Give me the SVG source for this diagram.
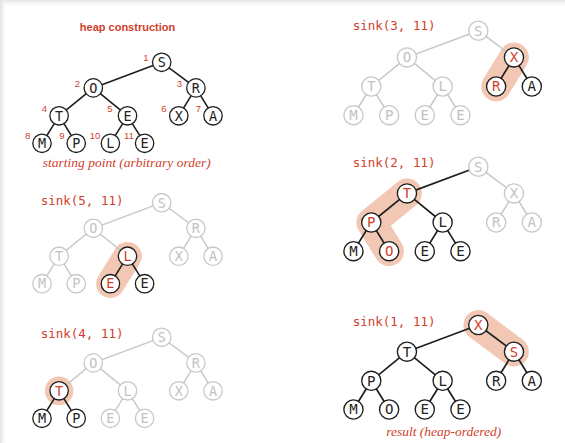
<svg xmlns="http://www.w3.org/2000/svg" width="565" height="443" viewBox="0 0 565 443">
  <defs>
    <linearGradient id="shadeTop" x1="0" y1="0" x2="0" y2="1">
      <stop offset="0" stop-color="#e2e2e2"/>
      <stop offset="1" stop-color="#ffffff" stop-opacity="0"/>
    </linearGradient>
    <linearGradient id="shadeLeft" x1="0" y1="0" x2="1" y2="0">
      <stop offset="0" stop-color="#e2e2e2"/>
      <stop offset="1" stop-color="#ffffff" stop-opacity="0"/>
    </linearGradient>
  </defs>
  <style>
    .e  { stroke: #1e1e1e; stroke-width: 1.6; fill: none; }
    .eg { stroke: #c6c6c6; stroke-width: 1.4; fill: none; }
    .hl { stroke: #f2c8b4; stroke-width: 28.5; stroke-linecap: round; stroke-linejoin: round; fill: none; }
    .nd circle { fill: #ffffff; stroke: #1e1e1e; stroke-width: 1.3; }
    .nd text { font-family: "DejaVu Sans Mono", "Liberation Mono", monospace; font-size: 13.5px; text-anchor: middle; fill: #222222; }
    .nd.g circle { stroke: #c8c8c8; }
    .nd.g text { fill: #c2c2c2; }
    .nd.r text { fill: #cf3f2c; }
    .nd text.idx { font-family: "Liberation Sans", Arial, sans-serif; font-size: 9.5px; fill: #cf3f2c; text-anchor: middle; }
    .cap { font-family: "DejaVu Sans Mono", "Liberation Mono", monospace; font-size: 12.5px; fill: #cf3f2c; }
    .note { font-family: "Liberation Serif", "Times New Roman", serif; font-style: italic; font-size: 13.5px; fill: #cf3f2c; text-anchor: middle; }
    .title { font-family: "Liberation Sans", Arial, sans-serif; font-weight: bold; font-size: 11px; fill: #cf3f2c; text-anchor: middle; }
  </style>

  <!-- page background with soft edge shading -->
  <rect x="0" y="0" width="565" height="443" fill="#ffffff"/>
  <rect x="0" y="0" width="565" height="8" fill="url(#shadeTop)"/>
  <rect x="0" y="0" width="8" height="443" fill="url(#shadeLeft)"/>

  <!-- ===== heap construction: starting point ===== -->
  <text class="title" x="127.5" y="30.5">heap construction</text>
  <g id="start" transform="translate(161.7,62.3)">
    <g id="start-edges">
      <line class="e" x1="0" y1="0" x2="-68.4" y2="25.6"/>
      <line class="e" x1="0" y1="0" x2="34.2" y2="25.6"/>
      <line class="e" x1="-68.4" y1="25.6" x2="-102.6" y2="53.5"/>
      <line class="e" x1="-68.4" y1="25.6" x2="-34.2" y2="53.5"/>
      <line class="e" x1="34.2" y1="25.6" x2="17.1" y2="53.5"/>
      <line class="e" x1="34.2" y1="25.6" x2="51.3" y2="53.5"/>
      <line class="e" x1="-102.6" y1="53.5" x2="-119.7" y2="81"/>
      <line class="e" x1="-102.6" y1="53.5" x2="-85.5" y2="81"/>
      <line class="e" x1="-34.2" y1="53.5" x2="-51.3" y2="81"/>
      <line class="e" x1="-34.2" y1="53.5" x2="-17.1" y2="81"/>
    </g>
    <g id="start-n1" class="nd"><circle cx="0" cy="0" r="9.2"/><text x="0" y="4.8">S</text><text class="idx" x="-15.7" y="-1.4">1</text></g>
    <g id="start-n2" class="nd"><circle cx="-68.4" cy="25.6" r="9.2"/><text x="-68.4" y="30.4">O</text><text class="idx" x="-84.4" y="24.4">2</text></g>
    <g id="start-n3" class="nd"><circle cx="34.2" cy="25.6" r="9.2"/><text x="34.2" y="30.4">R</text><text class="idx" x="17.6" y="24.4">3</text></g>
    <g id="start-n4" class="nd"><circle cx="-102.6" cy="53.5" r="9.2"/><text x="-102.6" y="58.3">T</text><text class="idx" x="-117.4" y="50.1">4</text></g>
    <g id="start-n5" class="nd"><circle cx="-34.2" cy="53.5" r="9.2"/><text x="-34.2" y="58.3">E</text><text class="idx" x="-51.7" y="50.1">5</text></g>
    <g id="start-n6" class="nd"><circle cx="17.1" cy="53.5" r="9.2"/><text x="17.1" y="58.3">X</text><text class="idx" x="2.3" y="50.1">6</text></g>
    <g id="start-n7" class="nd"><circle cx="51.3" cy="53.5" r="9.2"/><text x="51.3" y="58.3">A</text><text class="idx" x="36.6" y="50.1">7</text></g>
    <g id="start-n8" class="nd"><circle cx="-119.7" cy="81" r="9.2"/><text x="-119.7" y="85.8">M</text><text class="idx" x="-134" y="77.1">8</text></g>
    <g id="start-n9" class="nd"><circle cx="-85.5" cy="81" r="9.2"/><text x="-85.5" y="85.8">P</text><text class="idx" x="-99.7" y="77.1">9</text></g>
    <g id="start-n10" class="nd"><circle cx="-51.3" cy="81" r="9.2"/><text x="-51.3" y="85.8">L</text><text class="idx" x="-66.7" y="77.1">10</text></g>
    <g id="start-n11" class="nd"><circle cx="-17.1" cy="81" r="9.2"/><text x="-17.1" y="85.8">E</text><text class="idx" x="-32.7" y="77.1">11</text></g>
  </g>
  <text class="note" x="126.7" y="167">starting point (arbitrary order)</text>

  <!-- ===== sink(5, 11) ===== -->
  <text class="cap" x="40.7" y="204.7">sink(5, 11)</text>
  <g id="sink5" transform="translate(161.7,202.7)">
    <path class="hl" d="M-34.2,53.5 L-51.3,81"/>
    <g id="sink5-edges">
      <line class="eg" x1="0" y1="0" x2="-68.4" y2="25.6"/>
      <line class="eg" x1="0" y1="0" x2="34.2" y2="25.6"/>
      <line class="eg" x1="-68.4" y1="25.6" x2="-102.6" y2="53.5"/>
      <line class="eg" x1="-68.4" y1="25.6" x2="-34.2" y2="53.5"/>
      <line class="eg" x1="34.2" y1="25.6" x2="17.1" y2="53.5"/>
      <line class="eg" x1="34.2" y1="25.6" x2="51.3" y2="53.5"/>
      <line class="eg" x1="-102.6" y1="53.5" x2="-119.7" y2="81"/>
      <line class="eg" x1="-102.6" y1="53.5" x2="-85.5" y2="81"/>
      <line class="e" x1="-34.2" y1="53.5" x2="-51.3" y2="81"/>
      <line class="e" x1="-34.2" y1="53.5" x2="-17.1" y2="81"/>
    </g>
    <g id="sink5-n1" class="nd g"><circle cx="0" cy="0" r="9.2"/><text x="0" y="4.8">S</text></g>
    <g id="sink5-n2" class="nd g"><circle cx="-68.4" cy="25.6" r="9.2"/><text x="-68.4" y="30.4">O</text></g>
    <g id="sink5-n3" class="nd g"><circle cx="34.2" cy="25.6" r="9.2"/><text x="34.2" y="30.4">R</text></g>
    <g id="sink5-n4" class="nd g"><circle cx="-102.6" cy="53.5" r="9.2"/><text x="-102.6" y="58.3">T</text></g>
    <g id="sink5-n5" class="nd r"><circle cx="-34.2" cy="53.5" r="9.2"/><text x="-34.2" y="58.3">L</text></g>
    <g id="sink5-n6" class="nd g"><circle cx="17.1" cy="53.5" r="9.2"/><text x="17.1" y="58.3">X</text></g>
    <g id="sink5-n7" class="nd g"><circle cx="51.3" cy="53.5" r="9.2"/><text x="51.3" y="58.3">A</text></g>
    <g id="sink5-n8" class="nd g"><circle cx="-119.7" cy="81" r="9.2"/><text x="-119.7" y="85.8">M</text></g>
    <g id="sink5-n9" class="nd g"><circle cx="-85.5" cy="81" r="9.2"/><text x="-85.5" y="85.8">P</text></g>
    <g id="sink5-n10" class="nd r"><circle cx="-51.3" cy="81" r="9.2"/><text x="-51.3" y="85.8">E</text></g>
    <g id="sink5-n11" class="nd"><circle cx="-17.1" cy="81" r="9.2"/><text x="-17.1" y="85.8">E</text></g>
  </g>

  <!-- ===== sink(4, 11) ===== -->
  <text class="cap" x="40.7" y="338">sink(4, 11)</text>
  <g id="sink4" transform="translate(161.7,337.3)">
    <circle cx="-102.6" cy="53.5" r="14.3" fill="#f2c8b4"/>
    <g id="sink4-edges">
      <line class="eg" x1="0" y1="0" x2="-68.4" y2="25.6"/>
      <line class="eg" x1="0" y1="0" x2="34.2" y2="25.6"/>
      <line class="eg" x1="-68.4" y1="25.6" x2="-102.6" y2="53.5"/>
      <line class="eg" x1="-68.4" y1="25.6" x2="-34.2" y2="53.5"/>
      <line class="eg" x1="34.2" y1="25.6" x2="17.1" y2="53.5"/>
      <line class="eg" x1="34.2" y1="25.6" x2="51.3" y2="53.5"/>
      <line class="e" x1="-102.6" y1="53.5" x2="-119.7" y2="81"/>
      <line class="e" x1="-102.6" y1="53.5" x2="-85.5" y2="81"/>
      <line class="eg" x1="-34.2" y1="53.5" x2="-51.3" y2="81"/>
      <line class="eg" x1="-34.2" y1="53.5" x2="-17.1" y2="81"/>
    </g>
    <g id="sink4-n1" class="nd g"><circle cx="0" cy="0" r="9.2"/><text x="0" y="4.8">S</text></g>
    <g id="sink4-n2" class="nd g"><circle cx="-68.4" cy="25.6" r="9.2"/><text x="-68.4" y="30.4">O</text></g>
    <g id="sink4-n3" class="nd g"><circle cx="34.2" cy="25.6" r="9.2"/><text x="34.2" y="30.4">R</text></g>
    <g id="sink4-n4" class="nd r"><circle cx="-102.6" cy="53.5" r="9.2"/><text x="-102.6" y="58.3">T</text></g>
    <g id="sink4-n5" class="nd g"><circle cx="-34.2" cy="53.5" r="9.2"/><text x="-34.2" y="58.3">L</text></g>
    <g id="sink4-n6" class="nd g"><circle cx="17.1" cy="53.5" r="9.2"/><text x="17.1" y="58.3">X</text></g>
    <g id="sink4-n7" class="nd g"><circle cx="51.3" cy="53.5" r="9.2"/><text x="51.3" y="58.3">A</text></g>
    <g id="sink4-n8" class="nd"><circle cx="-119.7" cy="81" r="9.2"/><text x="-119.7" y="85.8">M</text></g>
    <g id="sink4-n9" class="nd"><circle cx="-85.5" cy="81" r="9.2"/><text x="-85.5" y="85.8">P</text></g>
    <g id="sink4-n10" class="nd g"><circle cx="-51.3" cy="81" r="9.2"/><text x="-51.3" y="85.8">E</text></g>
    <g id="sink4-n11" class="nd g"><circle cx="-17.1" cy="81" r="9.2"/><text x="-17.1" y="85.8">E</text></g>
  </g>

  <!-- ===== sink(3, 11) ===== -->
  <text class="cap" x="352.7" y="30">sink(3, 11)</text>
  <g id="sink3" transform="translate(478.3,30.7) scale(1.043)">
    <path class="hl" d="M34.2,25.6 L17.1,53.5"/>
    <g id="sink3-edges">
      <line class="eg" x1="0" y1="0" x2="-68.4" y2="25.6"/>
      <line class="eg" x1="0" y1="0" x2="34.2" y2="25.6"/>
      <line class="eg" x1="-68.4" y1="25.6" x2="-102.6" y2="53.5"/>
      <line class="eg" x1="-68.4" y1="25.6" x2="-34.2" y2="53.5"/>
      <line class="e" x1="34.2" y1="25.6" x2="17.1" y2="53.5"/>
      <line class="e" x1="34.2" y1="25.6" x2="51.3" y2="53.5"/>
      <line class="eg" x1="-102.6" y1="53.5" x2="-119.7" y2="81"/>
      <line class="eg" x1="-102.6" y1="53.5" x2="-85.5" y2="81"/>
      <line class="eg" x1="-34.2" y1="53.5" x2="-51.3" y2="81"/>
      <line class="eg" x1="-34.2" y1="53.5" x2="-17.1" y2="81"/>
    </g>
    <g id="sink3-n1" class="nd g"><circle cx="0" cy="0" r="9.2"/><text x="0" y="4.8">S</text></g>
    <g id="sink3-n2" class="nd g"><circle cx="-68.4" cy="25.6" r="9.2"/><text x="-68.4" y="30.4">O</text></g>
    <g id="sink3-n3" class="nd r"><circle cx="34.2" cy="25.6" r="9.2"/><text x="34.2" y="30.4">X</text></g>
    <g id="sink3-n4" class="nd g"><circle cx="-102.6" cy="53.5" r="9.2"/><text x="-102.6" y="58.3">T</text></g>
    <g id="sink3-n5" class="nd g"><circle cx="-34.2" cy="53.5" r="9.2"/><text x="-34.2" y="58.3">L</text></g>
    <g id="sink3-n6" class="nd r"><circle cx="17.1" cy="53.5" r="9.2"/><text x="17.1" y="58.3">R</text></g>
    <g id="sink3-n7" class="nd"><circle cx="51.3" cy="53.5" r="9.2"/><text x="51.3" y="58.3">A</text></g>
    <g id="sink3-n8" class="nd g"><circle cx="-119.7" cy="81" r="9.2"/><text x="-119.7" y="85.8">M</text></g>
    <g id="sink3-n9" class="nd g"><circle cx="-85.5" cy="81" r="9.2"/><text x="-85.5" y="85.8">P</text></g>
    <g id="sink3-n10" class="nd g"><circle cx="-51.3" cy="81" r="9.2"/><text x="-51.3" y="85.8">E</text></g>
    <g id="sink3-n11" class="nd g"><circle cx="-17.1" cy="81" r="9.2"/><text x="-17.1" y="85.8">E</text></g>
  </g>

  <!-- ===== sink(2, 11) ===== -->
  <text class="cap" x="352.7" y="167.3">sink(2, 11)</text>
  <g id="sink2" transform="translate(478.3,166.7) scale(1.043)">
    <path class="hl" d="M-68.4,25.6 L-102.6,53.5 L-85.5,81"/>
    <g id="sink2-edges">
      <line class="e" x1="0" y1="0" x2="-68.4" y2="25.6"/>
      <line class="eg" x1="0" y1="0" x2="34.2" y2="25.6"/>
      <line class="e" x1="-68.4" y1="25.6" x2="-102.6" y2="53.5"/>
      <line class="e" x1="-68.4" y1="25.6" x2="-34.2" y2="53.5"/>
      <line class="eg" x1="34.2" y1="25.6" x2="17.1" y2="53.5"/>
      <line class="eg" x1="34.2" y1="25.6" x2="51.3" y2="53.5"/>
      <line class="e" x1="-102.6" y1="53.5" x2="-119.7" y2="81"/>
      <line class="e" x1="-102.6" y1="53.5" x2="-85.5" y2="81"/>
      <line class="e" x1="-34.2" y1="53.5" x2="-51.3" y2="81"/>
      <line class="e" x1="-34.2" y1="53.5" x2="-17.1" y2="81"/>
    </g>
    <g id="sink2-n1" class="nd g"><circle cx="0" cy="0" r="9.2"/><text x="0" y="4.8">S</text></g>
    <g id="sink2-n2" class="nd r"><circle cx="-68.4" cy="25.6" r="9.2"/><text x="-68.4" y="30.4">T</text></g>
    <g id="sink2-n3" class="nd g"><circle cx="34.2" cy="25.6" r="9.2"/><text x="34.2" y="30.4">X</text></g>
    <g id="sink2-n4" class="nd r"><circle cx="-102.6" cy="53.5" r="9.2"/><text x="-102.6" y="58.3">P</text></g>
    <g id="sink2-n5" class="nd"><circle cx="-34.2" cy="53.5" r="9.2"/><text x="-34.2" y="58.3">L</text></g>
    <g id="sink2-n6" class="nd g"><circle cx="17.1" cy="53.5" r="9.2"/><text x="17.1" y="58.3">R</text></g>
    <g id="sink2-n7" class="nd g"><circle cx="51.3" cy="53.5" r="9.2"/><text x="51.3" y="58.3">A</text></g>
    <g id="sink2-n8" class="nd"><circle cx="-119.7" cy="81" r="9.2"/><text x="-119.7" y="85.8">M</text></g>
    <g id="sink2-n9" class="nd r"><circle cx="-85.5" cy="81" r="9.2"/><text x="-85.5" y="85.8">O</text></g>
    <g id="sink2-n10" class="nd"><circle cx="-51.3" cy="81" r="9.2"/><text x="-51.3" y="85.8">E</text></g>
    <g id="sink2-n11" class="nd"><circle cx="-17.1" cy="81" r="9.2"/><text x="-17.1" y="85.8">E</text></g>
  </g>

  <!-- ===== sink(1, 11): result ===== -->
  <text class="cap" x="352.7" y="326.3">sink(1, 11)</text>
  <g id="sink1" transform="translate(478.3,325) scale(1.043)">
    <path class="hl" d="M0,0 L34.2,25.6"/>
    <g id="sink1-edges">
      <line class="e" x1="0" y1="0" x2="-68.4" y2="25.6"/>
      <line class="e" x1="0" y1="0" x2="34.2" y2="25.6"/>
      <line class="e" x1="-68.4" y1="25.6" x2="-102.6" y2="53.5"/>
      <line class="e" x1="-68.4" y1="25.6" x2="-34.2" y2="53.5"/>
      <line class="e" x1="34.2" y1="25.6" x2="17.1" y2="53.5"/>
      <line class="e" x1="34.2" y1="25.6" x2="51.3" y2="53.5"/>
      <line class="e" x1="-102.6" y1="53.5" x2="-119.7" y2="81"/>
      <line class="e" x1="-102.6" y1="53.5" x2="-85.5" y2="81"/>
      <line class="e" x1="-34.2" y1="53.5" x2="-51.3" y2="81"/>
      <line class="e" x1="-34.2" y1="53.5" x2="-17.1" y2="81"/>
    </g>
    <g id="sink1-n1" class="nd r"><circle cx="0" cy="0" r="9.2"/><text x="0" y="4.8">X</text></g>
    <g id="sink1-n2" class="nd"><circle cx="-68.4" cy="25.6" r="9.2"/><text x="-68.4" y="30.4">T</text></g>
    <g id="sink1-n3" class="nd r"><circle cx="34.2" cy="25.6" r="9.2"/><text x="34.2" y="30.4">S</text></g>
    <g id="sink1-n4" class="nd"><circle cx="-102.6" cy="53.5" r="9.2"/><text x="-102.6" y="58.3">P</text></g>
    <g id="sink1-n5" class="nd"><circle cx="-34.2" cy="53.5" r="9.2"/><text x="-34.2" y="58.3">L</text></g>
    <g id="sink1-n6" class="nd"><circle cx="17.1" cy="53.5" r="9.2"/><text x="17.1" y="58.3">R</text></g>
    <g id="sink1-n7" class="nd"><circle cx="51.3" cy="53.5" r="9.2"/><text x="51.3" y="58.3">A</text></g>
    <g id="sink1-n8" class="nd"><circle cx="-119.7" cy="81" r="9.2"/><text x="-119.7" y="85.8">M</text></g>
    <g id="sink1-n9" class="nd"><circle cx="-85.5" cy="81" r="9.2"/><text x="-85.5" y="85.8">O</text></g>
    <g id="sink1-n10" class="nd"><circle cx="-51.3" cy="81" r="9.2"/><text x="-51.3" y="85.8">E</text></g>
    <g id="sink1-n11" class="nd"><circle cx="-17.1" cy="81" r="9.2"/><text x="-17.1" y="85.8">E</text></g>
  </g>
  <text class="note" x="443.8" y="436">result (heap-ordered)</text>
</svg>
